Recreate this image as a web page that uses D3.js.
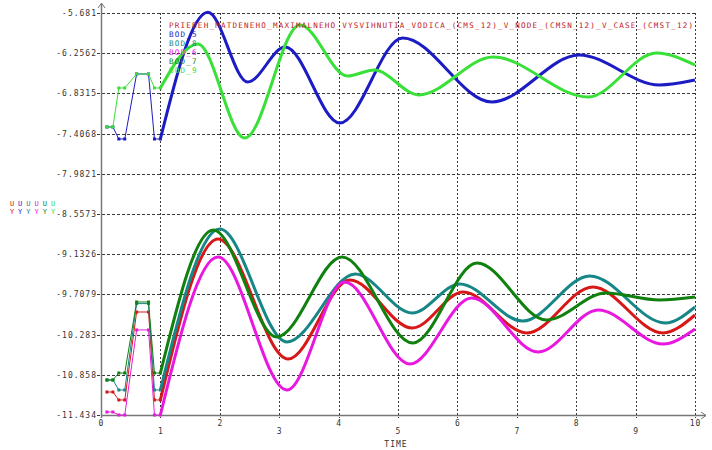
<!DOCTYPE html>
<html>
<head>
<meta charset="utf-8">
<script src="https://cdn.jsdelivr.net/npm/d3@7"></script>
<style>
  body { margin: 0; background: #fff; }
  svg { display: block; font-family: 'DejaVu Sans Mono', monospace; }
</style>
</head>
<body>
<svg></svg>
<script>
// chart data

const title = 'PRIEBEH_MATDENEHO_MAXIMALNEHO_VYSVIHNUTIA_VODICA_(CMS_12)_V_NODE_(CMSN_12)_V_CASE_(CMST_12)'
const legendNames = [title, 'BOD_5', 'BOD_8', 'BOD_6', 'BOD_7', 'BOD_9']

const yTickValues = [-5.681, -6.2562, -6.8315, -7.4068, -7.9821, -8.5573, -9.1326, -9.7079, -10.283, -10.858, -11.434]
const yTickLabels = ['-5.681', '-6.2562', '-6.8315', '-7.4068', '-7.9821', '-8.5573', '-9.1326', '-9.7079', '-10.283', '-10.858', '-11.434']
const xTickValues = [0, 1, 2, 3, 4, 5, 6, 7, 8, 9, 10]

// start-up segment (thin lines with points)
const thinTime = [0.1, 0.2, 0.3, 0.4, 0.6, 0.8, 0.9, 1.0]
const redThin = [-11.105, -11.105, -11.219, -11.219, -9.960, -9.960, -11.219, -11.219]
const blueThin = [-7.312, -7.312, -7.484, -7.484, -6.554, -6.554, -7.484, -7.484]
const tealThin = [-10.933, -10.933, -11.076, -11.076, -9.840, -9.840, -11.076, -11.076]
const magentaThin = [-11.391, -11.391, -11.434, -11.434, -10.217, -10.217, -11.434, -11.434]
const dkGreenThin = [-10.933, -10.933, -10.833, -10.833, -9.817, -9.817, -10.833, -10.833]
const greenThin = [-7.312, -7.312, -6.754, -6.754, -6.554, -6.554, -6.754, -6.754]

// main response (thick lines)
const redTime = [1.0, 1.97, 3.15, 4.19, 5.24, 6.1, 7.17, 8.28, 9.46, 10]
const redValue = [-11.219, -8.915, -10.632, -9.502, -10.189, -9.674, -10.260, -9.602, -10.260, -10.003]

const blueTime = [1.0, 1.8, 2.47, 3.1, 4.02, 5.08, 6.58, 8.05, 9.4, 10]
const blueValue = [-7.484, -5.67, -6.668, -6.168, -7.255, -6.039, -6.955, -6.282, -6.711, -6.640]

const tealTime = [1.0, 2.0, 3.13, 4.28, 5.24, 6.04, 7.1, 8.23, 9.5, 10]
const tealValue = [-11.076, -8.772, -10.389, -9.416, -9.974, -9.559, -10.089, -9.445, -10.117, -9.888]

const magentaTime = [1.0, 1.97, 3.13, 4.1, 5.2, 6.24, 7.36, 8.37, 9.46, 10]
const magentaValue = [-11.434, -9.173, -11.076, -9.530, -10.704, -9.759, -10.532, -9.931, -10.418, -10.203]

const dkGreenTime = [1.0, 1.89, 2.96, 4.06, 5.25, 6.33, 7.5, 8.5, 9.4, 10]
const dkGreenValue = [-10.833, -8.786, -10.317, -9.173, -10.403, -9.259, -10.074, -9.688, -9.788, -9.745]

const greenTime = [1.0, 1.63, 2.42, 3.35, 4.15, 4.6, 5.35, 6.6, 8.2, 9.35, 10]
const greenValue = [-6.754, -6.125, -7.470, -5.853, -6.583, -6.497, -6.854, -6.311, -6.883, -6.253, -6.425]

const colors = ['#d81818', '#1c1cc4', '#168686', '#e818e0', '#10800f', '#38e038']

const series = [
  { thin: redThin, time: redTime, value: redValue },
  { thin: blueThin, time: blueTime, value: blueValue },
  { thin: tealThin, time: tealTime, value: tealValue },
  { thin: magentaThin, time: magentaTime, value: magentaValue },
  { thin: dkGreenThin, time: dkGreenTime, value: dkGreenValue },
  { thin: greenThin, time: greenTime, value: greenValue }
]

// dimensions
const w = 712
const h = 450
const plotLeft = 101
const plotRight = 695
const plotTop = 13
const plotBottom = 415

const svg = d3.select('svg')
  .attr('width', w)
  .attr('height', h)

const xScale = d3.scaleLinear().domain([0, 10]).range([plotLeft, plotRight])
const yScale = d3.scaleLinear().domain([-11.434, -5.681]).range([plotBottom, plotTop])

// grid
svg.append('g')
  .selectAll('line')
  .data(yTickValues)
  .enter()
  .append('line')
  .attr('x1', plotLeft - 4)
  .attr('x2', plotRight)
  .attr('y1', d => Math.round(yScale(d)) + 0.5)
  .attr('y2', d => Math.round(yScale(d)) + 0.5)
  .attr('stroke', '#3a3a3a')
  .attr('stroke-dasharray', '3,2')

svg.append('g')
  .selectAll('line')
  .data(xTickValues.slice(1))
  .enter()
  .append('line')
  .attr('x1', d => Math.round(xScale(d)) + 0.5)
  .attr('x2', d => Math.round(xScale(d)) + 0.5)
  .attr('y1', plotTop)
  .attr('y2', plotBottom + 3)
  .attr('stroke', '#3a3a3a')
  .attr('stroke-dasharray', '2,2')

// axes
svg.append('line')
  .attr('x1', plotLeft + 0.5).attr('x2', plotLeft + 0.5)
  .attr('y1', plotBottom + 3).attr('y2', 4)
  .attr('stroke', '#777').attr('stroke-width', 1.5)
svg.append('path')
  .attr('d', `M${plotLeft - 3},8 L${plotLeft + 0.5},3 L${plotLeft + 4},8`)
  .attr('fill', 'none').attr('stroke', '#777')

svg.append('line')
  .attr('x1', plotLeft).attr('x2', 706)
  .attr('y1', plotBottom + 0.5).attr('y2', plotBottom + 0.5)
  .attr('stroke', '#777').attr('stroke-width', 1.5)
svg.append('path')
  .attr('d', `M701,${plotBottom - 3} L706,${plotBottom + 0.5} L701,${plotBottom + 4}`)
  .attr('fill', 'none').attr('stroke', '#777')

// y tick labels
svg.append('g')
  .selectAll('text')
  .data(yTickValues)
  .enter()
  .append('text')
  .attr('x', plotLeft - 4)
  .attr('y', d => yScale(d) + 3)
  .attr('text-anchor', 'end')
  .style('font-size', '8px')
  .style('letter-spacing', '1px')
  .attr('fill', '#333')
  .text((d, i) => yTickLabels[i])

// x tick labels, alternating heights
svg.append('g')
  .selectAll('text')
  .data(xTickValues)
  .enter()
  .append('text')
  .attr('x', d => xScale(d) + 0.5)
  .attr('y', d => d % 2 === 0 ? 426 : 434)
  .attr('text-anchor', 'middle')
  .style('font-size', '8px')
  .style('letter-spacing', '1px')
  .attr('fill', '#333')
  .text(d => d)

svg.append('text')
  .attr('x', 396)
  .attr('y', 447)
  .attr('text-anchor', 'middle')
  .style('font-size', '8px')
  .style('letter-spacing', '1px')
  .attr('fill', '#333')
  .text('TIME')

// left colour key, one column per series
const key = svg.append('g')
colors.forEach((c, i) => {
  const col = key.append('text')
    .attr('x', 12 + i * 8.2)
    .attr('y', 206)
    .attr('text-anchor', 'middle')
    .style('font-size', '7px')
    .attr('fill', c)
  col.append('tspan').text('U')
  col.append('tspan').attr('x', 12 + i * 8.2).attr('dy', 8).text('Y')
})

// lines
const thinLine = d3.line()
  .x((d, i) => xScale(thinTime[i]))
  .y(d => yScale(d))

const thickLine = d3.line()
  .x(d => xScale(d[0]))
  .y(d => yScale(d[1]))
  .curve(d3.curveMonotoneX)

series.forEach((s, k) => {
  svg.append('path')
    .datum(s.thin)
    .attr('d', thinLine)
    .attr('fill', 'none')
    .attr('stroke', colors[k])
    .attr('stroke-width', 1)

  svg.append('g')
    .selectAll('rect')
    .data(s.thin)
    .enter()
    .append('rect')
    .attr('x', (d, i) => xScale(thinTime[i]) - 1.5)
    .attr('y', d => yScale(d) - 1.5)
    .attr('width', 3)
    .attr('height', 3)
    .attr('fill', colors[k])
})

series.forEach((s, k) => {
  svg.append('path')
    .datum(d3.zip(s.time, s.value))
    .attr('d', thickLine)
    .attr('fill', 'none')
    .attr('stroke', colors[k])
    .attr('stroke-width', 3)
})

// legend, stacked lines in one block
const legend = svg.append('text')
  .attr('x', 169)
  .attr('y', 28)
  .style('font-size', '7.6px')
  .style('letter-spacing', '1.2px')

legend.selectAll('tspan')
  .data(legendNames)
  .enter()
  .append('tspan')
  .attr('x', 169)
  .attr('dy', (d, i) => i === 0 ? 0 : 9)
  .attr('fill', (d, i) => i === 0 ? '#c01818' : colors[i])
  .text(d => d)
</script>
</body>
</html>
